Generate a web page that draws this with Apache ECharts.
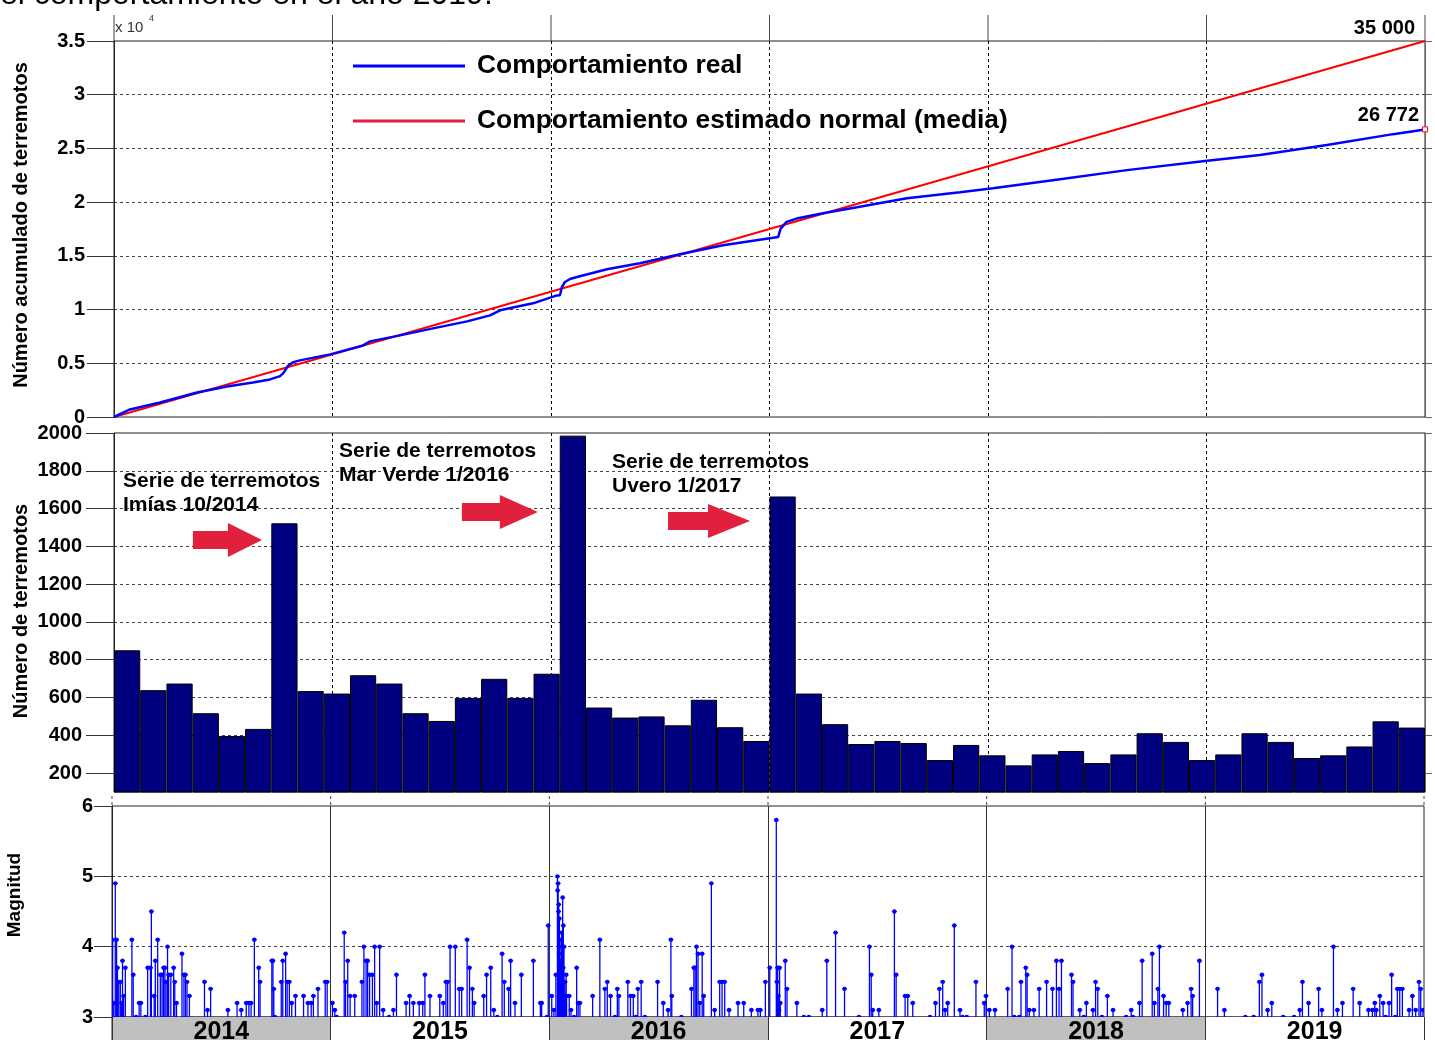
<!DOCTYPE html>
<html><head><meta charset="utf-8">
<script src="https://cdn.jsdelivr.net/npm/echarts@6/dist/echarts.min.js"></script>
<style>html,body{margin:0;padding:0;background:#fff;overflow:hidden}#c{width:1435px;height:1040px}</style>
</head><body><div id="c"></div>
<script>
// ---------- DATA ----------
const yearLabels = ['2014','2015','2016','2017','2018','2019'];
const cumTickValues = [0,5000,10000,15000,20000,25000,30000,35000];
const countTickValues = [200,400,600,800,1000,1200,1400,1600,1800,2000];
const magTickValues = [3,4,5,6];

// cumulative number of earthquakes (real)
const cumYears = [2014.000,2014.073,2014.211,2014.380,2014.517,2014.636,2014.714,2014.760,2014.775,2014.798,2014.821,2014.851,2014.989,2015.140,2015.172,2015.309,2015.460,2015.616,2015.721,2015.767,2015.918,2016.027,2016.041,2016.050,2016.064,2016.087,2016.119,2016.256,2016.407,2016.590,2016.787,2017.040,2017.051,2017.078,2017.124,2017.245,2017.400,2017.629,2017.872,2018.023,2018.330,2018.636,2018.993,2019.245,2019.551,2019.854,2020.000];
const cumReal = [0,700,1350,2280,2840,3220,3500,3800,4080,4800,5110,5270,5830,6660,7040,7600,8250,8900,9460,9930,10580,11320,11330,12100,12570,12850,13030,13750,14310,15150,15990,16760,17540,18160,18470,18970,19530,20370,20930,21300,22140,22980,23820,24380,25310,26330,26772];
// estimated normal behaviour (mean)
const estYears = [2014, 2020];
const estValues = [0, 35000];

// histogram bins (number of earthquakes per period)
const binLabels = ['1','2','3','4','5','6','7','8','9','10','11','12','13','14','15','16','17','18','19','20','21','22','23','24','25','26','27','28','29','30','31','32','33','34','35','36','37','38','39','40','41','42','43','44','45','46','47','48','49','50'];
const binCounts = [850,639,674,517,396,434,1522,634,621,718,674,517,476,598,699,598,726,1986,547,494,500,453,588,443,370,1664,621,459,354,370,359,269,349,294,241,299,317,253,299,411,365,269,299,411,365,280,294,341,474,441];

// magnitude of events [time (decimal year), magnitude]
const quakes2014 = [[2014.003,4.1],[2014.008,3.2],[2014.015,4.9],[2014.021,4.1],[2014.025,3.7],[2014.031,3.5],[2014.038,3.5],[2014.044,3.2],[2014.048,3.8],[2014.053,3.3],[2014.061,3.7],[2014.091,4.1],[2014.097,3.6],[2014.110,3.0],[2014.124,3.2],[2014.132,3.2],[2014.152,3.0],[2014.163,3.7],[2014.176,3.7],[2014.180,4.5],[2014.193,3.3],[2014.198,3.8],[2014.209,4.1],[2014.221,3.6],[2014.229,3.6],[2014.236,3.7],[2014.242,3.7],[2014.247,3.5],[2014.254,4.0],[2014.259,3.6],[2014.269,3.6],[2014.282,3.7],[2014.287,3.5],[2014.295,3.2],[2014.320,3.9],[2014.329,3.6],[2014.336,3.6],[2014.343,3.5],[2014.354,3.3],[2014.423,3.5],[2014.437,3.1],[2014.451,3.4],[2014.530,3.1],[2014.572,3.2],[2014.591,3.1],[2014.614,3.2],[2014.626,3.2],[2014.636,3.2],[2014.651,4.1],[2014.671,3.7],[2014.677,3.5],[2014.731,3.8],[2014.736,3.8],[2014.740,3.4],[2014.745,3.0],[2014.774,3.5],[2014.781,3.8],[2014.794,3.9],[2014.801,3.5],[2014.811,3.5],[2014.822,3.2],[2014.839,3.3],[2014.876,3.3],[2014.896,3.2],[2014.911,3.2],[2014.921,3.3],[2014.942,3.4],[2014.975,3.5],[2014.984,3.5]];
const quakes2015 = [[2015.008,3.2],[2015.019,3.1],[2015.028,3.0],[2015.062,4.2],[2015.068,3.5],[2015.078,3.8],[2015.089,3.3],[2015.110,3.3],[2015.143,3.5],[2015.152,4.0],[2015.162,3.8],[2015.169,3.8],[2015.178,3.6],[2015.191,3.6],[2015.201,4.0],[2015.211,3.2],[2015.224,4.0],[2015.240,3.1],[2015.267,3.0],[2015.287,3.1],[2015.301,3.6],[2015.345,3.2],[2015.361,3.3],[2015.378,3.2],[2015.405,3.2],[2015.421,3.2],[2015.431,3.6],[2015.454,3.3],[2015.499,3.3],[2015.515,3.2],[2015.527,3.5],[2015.535,3.5],[2015.546,4.0],[2015.570,4.0],[2015.588,3.4],[2015.599,3.4],[2015.624,4.1],[2015.635,3.7],[2015.648,3.4],[2015.656,3.2],[2015.700,3.3],[2015.713,3.6],[2015.732,3.7],[2015.746,3.1],[2015.762,3.0],[2015.784,3.9],[2015.794,3.5],[2015.814,3.4],[2015.823,3.8],[2015.843,3.2],[2015.872,3.6],[2015.927,3.8],[2015.959,3.2],[2015.965,3.2],[2015.989,3.0],[2015.995,4.3]];
const quakes2016 = [[2016.011,3.3],[2016.021,3.1],[2016.030,3.6],[2016.037,5.0],[2016.038,4.8],[2016.040,4.9],[2016.042,4.5],[2016.043,4.6],[2016.045,3.9],[2016.046,4.4],[2016.049,4.1],[2016.050,3.6],[2016.052,3.8],[2016.054,3.5],[2016.056,4.2],[2016.058,4.0],[2016.061,4.7],[2016.063,3.7],[2016.064,4.3],[2016.066,3.5],[2016.067,4.0],[2016.070,3.2],[2016.072,3.5],[2016.074,3.3],[2016.077,3.6],[2016.079,3.3],[2016.091,3.3],[2016.099,3.1],[2016.113,3.0],[2016.125,3.7],[2016.132,3.2],[2016.140,3.2],[2016.198,3.3],[2016.231,4.1],[2016.254,3.4],[2016.265,3.5],[2016.280,3.3],[2016.300,3.0],[2016.311,3.4],[2016.318,3.3],[2016.359,3.5],[2016.371,3.3],[2016.384,3.3],[2016.396,3.0],[2016.405,3.4],[2016.420,3.5],[2016.437,3.0],[2016.495,3.5],[2016.521,3.2],[2016.543,3.1],[2016.556,4.1],[2016.560,3.3],[2016.604,3.0],[2016.650,3.4],[2016.661,3.7],[2016.667,3.7],[2016.673,4.0],[2016.680,3.9],[2016.688,3.2],[2016.699,3.9],[2016.706,3.3],[2016.741,4.9],[2016.756,3.1],[2016.779,3.5],[2016.790,3.5],[2016.802,3.5],[2016.822,3.1],[2016.863,3.2],[2016.889,3.2],[2016.924,3.1],[2016.954,3.1],[2016.965,3.1],[2016.988,3.5]];
const quakes2017 = [[2017.008,3.7],[2017.038,5.8],[2017.041,3.5],[2017.044,3.7],[2017.047,3.3],[2017.050,3.1],[2017.053,3.7],[2017.056,3.2],[2017.079,3.8],[2017.087,3.4],[2017.132,3.2],[2017.164,3.0],[2017.187,3.0],[2017.248,3.1],[2017.269,3.8],[2017.309,4.2],[2017.350,3.4],[2017.416,3.0],[2017.464,4.0],[2017.472,3.6],[2017.479,3.1],[2017.507,3.1],[2017.578,4.5],[2017.586,3.6],[2017.627,3.3],[2017.639,3.3],[2017.662,3.2],[2017.741,3.0],[2017.766,3.2],[2017.784,3.4],[2017.799,3.5],[2017.810,3.1],[2017.822,3.2],[2017.852,4.3],[2017.878,3.1],[2017.890,3.0],[2017.909,3.0],[2017.951,3.5],[2017.989,3.2],[2017.997,3.3]];
const quakes2018 = [[2018.012,3.1],[2018.038,3.1],[2018.096,3.4],[2018.116,4.0],[2018.126,3.0],[2018.149,3.0],[2018.157,3.5],[2018.179,3.7],[2018.185,3.6],[2018.195,3.1],[2018.216,3.1],[2018.240,3.4],[2018.274,3.5],[2018.301,3.4],[2018.319,3.8],[2018.331,3.4],[2018.342,3.8],[2018.388,3.6],[2018.395,3.5],[2018.426,3.1],[2018.444,3.0],[2018.456,3.2],[2018.486,3.1],[2018.498,3.5],[2018.508,3.4],[2018.527,3.0],[2018.552,3.3],[2018.578,3.1],[2018.638,3.0],[2018.661,3.1],[2018.669,3.0],[2018.699,3.2],[2018.711,3.8],[2018.757,3.9],[2018.767,3.2],[2018.783,3.4],[2018.790,4.0],[2018.809,3.3],[2018.821,3.2],[2018.833,3.2],[2018.897,3.1],[2018.919,3.2],[2018.935,3.4],[2018.942,3.3],[2018.973,3.8]];
const quakes2019 = [[2019.056,3.4],[2019.087,3.1],[2019.183,3.0],[2019.221,3.0],[2019.247,3.5],[2019.259,3.6],[2019.285,3.1],[2019.304,3.2],[2019.356,3.0],[2019.406,3.0],[2019.432,3.1],[2019.444,3.5],[2019.472,3.2],[2019.518,3.4],[2019.533,3.1],[2019.586,4.0],[2019.604,3.1],[2019.627,3.2],[2019.676,3.4],[2019.706,3.2],[2019.746,3.1],[2019.764,3.1],[2019.775,3.2],[2019.782,3.1],[2019.798,3.3],[2019.813,3.2],[2019.825,3.0],[2019.840,3.2],[2019.852,3.6],[2019.868,3.0],[2019.878,3.4],[2019.889,3.4],[2019.901,3.4],[2019.932,3.1],[2019.947,3.3],[2019.962,3.1],[2019.977,3.5],[2019.985,3.4],[2019.995,3.1]];

// annotations (middle panel, data coordinates: year, count)
const annoTexts = ['Serie de terremotos\nImías 10/2014','Serie de terremotos\nMar Verde 1/2016','Serie de terremotos\nUvero 1/2017'];
const annoTextAt = [[2014.041,1746],[2015.030,1905],[2016.279,1847]];
const arrowTips = [[2014.677,1434],[2015.940,1582],[2016.911,1534]];

// ---------- CHART ----------
const F = 'Arial, "Liberation Sans", Helvetica, sans-serif';
const chart = echarts.init(document.getElementById('c'));
const allQuakes = [].concat(quakes2014, quakes2015, quakes2016, quakes2017, quakes2018, quakes2019);

const blueData = cumYears.map((y, i) => {
  const item = { value: [y, cumReal[i]] };
  if (i === cumYears.length - 1) {
    item.symbol = 'rect'; item.symbolSize = 5;
    item.itemStyle = { color: '#fff', borderColor: '#ff0000', borderWidth: 1 };
  }
  return item;
});
const redData = estYears.map((y, i) => [y, estValues[i]]);

const yLabel = { fontFamily: F, fontWeight: 'bold', fontSize: 20, color: '#000' };
const dashGrid = { show: true, lineStyle: { color: '#444', type: [3, 3], width: 1 }, showMinLine: false, showMaxLine: false };
const vDash = { show: true, lineStyle: { color: '#000', type: [3, 3], width: 1 }, showMinLine: false, showMaxLine: false };
const gridBorder = { show: true, borderColor: '#222', borderWidth: 1, backgroundColor: 'transparent' };

const L = 114, R = 10;
chart.setOption({
  animation: false,
  backgroundColor: '#fff',
  grid: [
    Object.assign({ left: L, right: R, top: 41, height: 376 }, gridBorder),
    Object.assign({ left: L, right: R, top: 433, height: 359 }, gridBorder),
    Object.assign({ left: 112, right: 11, top: 806, height: 211 }, gridBorder),
    Object.assign({ left: 112, right: 11, top: 1017, height: 45 }, gridBorder)
  ],
  legend: {
    orient: 'vertical', left: 353, top: 53, padding: 0, itemWidth: 112, itemHeight: 3, itemGap: 29,
    icon: 'rect',
    textStyle: { fontFamily: F, fontWeight: 'bold', fontSize: 26.4, color: '#000', padding: [0, 0, 0, 7] },
    data: [
      { name: 'Comportamiento real', itemStyle: { color: '#0000ff' } },
      { name: 'Comportamiento estimado normal (media)', itemStyle: { color: '#e0203c' } }
    ]
  },
  xAxis: [
    { gridIndex: 0, type: 'value', min: 2014, max: 2020, interval: 1, axisLine: { show: false }, axisTick: { show: false }, axisLabel: { show: false }, splitLine: vDash },
    { gridIndex: 1, type: 'category', data: binLabels, boundaryGap: true, axisLine: { show: false }, axisTick: { show: false }, axisLabel: { show: false }, splitLine: { show: false } },
    { gridIndex: 1, type: 'value', min: 2014, max: 2020, interval: 1, axisLine: { show: false }, axisTick: { show: false }, axisLabel: { show: false }, splitLine: vDash },
    { gridIndex: 2, type: 'value', min: 2014, max: 2020, interval: 1, axisLine: { show: false }, axisTick: { show: false }, axisLabel: { show: false }, splitLine: { show: true, lineStyle: { color: '#333', width: 1 }, showMinLine: false, showMaxLine: false } },
    { gridIndex: 3, type: 'category', data: yearLabels, position: 'top', boundaryGap: true, axisLine: { show: false }, axisTick: { show: false },
      axisLabel: { inside: true, margin: 3, fontFamily: F, fontWeight: 'bold', fontSize: 25, color: '#000', verticalAlign: 'top' },
      splitArea: { show: true, interval: 0, areaStyle: { color: ['#c0c0c0', '#ffffff'] } },
      splitLine: { show: true, interval: 0, lineStyle: { color: '#333', width: 1 } } }
  ],
  yAxis: [
    { gridIndex: 0, type: 'value', min: 0, max: 35000, interval: 5000,
      axisLine: { show: true, lineStyle: { color: '#222' } }, axisTick: { show: true, length: 27, lineStyle: { color: '#333' } },
      axisLabel: Object.assign({ margin: 29, formatter: v => String(v / 10000) }, yLabel), splitLine: dashGrid },
    { gridIndex: 1, type: 'value', min: 100, max: 2000,
      axisLine: { show: true, lineStyle: { color: '#222' } }, axisTick: { show: true, length: 28, customValues: countTickValues, lineStyle: { color: '#333' } },
      axisLabel: Object.assign({ margin: 32, customValues: countTickValues, formatter: v => String(v) }, yLabel), splitLine: dashGrid },
    { gridIndex: 2, type: 'value', min: 3, max: 6, interval: 1,
      axisLine: { show: true, lineStyle: { color: '#222' } }, axisTick: { show: true, length: 18, lineStyle: { color: '#333' } },
      axisLabel: Object.assign({ margin: 19 }, yLabel), splitLine: dashGrid },
    { gridIndex: 3, type: 'value', min: 0, max: 1, show: false },
    { gridIndex: 0, type: 'value', position: 'right', min: 0, max: 35000, interval: 5000,
      axisLine: { show: true, lineStyle: { color: '#666' } }, axisTick: { show: true, length: 7, lineStyle: { color: '#666' } }, axisLabel: { show: false }, splitLine: { show: false } },
    { gridIndex: 1, type: 'value', position: 'right', min: 100, max: 2000,
      axisLine: { show: true, lineStyle: { color: '#666' } }, axisTick: { show: true, length: 7, customValues: countTickValues, lineStyle: { color: '#666' } }, axisLabel: { show: false, customValues: countTickValues }, splitLine: { show: false } }
  ],
  series: [
    { name: 'Comportamiento estimado normal (media)', type: 'line', xAxisIndex: 0, yAxisIndex: 0, data: redData,
      symbol: 'none', lineStyle: { color: '#ff0000', width: 2 }, itemStyle: { color: '#ff0000' }, z: 3 },
    { name: 'Comportamiento real', type: 'line', xAxisIndex: 0, yAxisIndex: 0, data: blueData,
      symbol: 'none', showSymbol: true, lineStyle: { color: '#0000ff', width: 2.5 }, itemStyle: { color: '#0000ff' }, z: 4 },
    { name: 'bins', type: 'bar', xAxisIndex: 1, yAxisIndex: 1, data: binCounts, barCategoryGap: '0%',
      itemStyle: { color: '#000080', borderColor: '#000', borderWidth: 1 } },
    { name: 'stems', type: 'custom', xAxisIndex: 3, yAxisIndex: 2, data: allQuakes, clip: true,
      renderItem: (params, api) => {
        const t = api.value(0), m = api.value(1);
        const p0 = api.coord([t, 3]), p1 = api.coord([t, m]);
        return { type: 'group', children: [
          { type: 'line', shape: { x1: p0[0], y1: p0[1], x2: p1[0], y2: p1[1] }, style: { stroke: '#0000ff', lineWidth: 1.3 } },
          { type: 'circle', shape: { cx: p1[0], cy: p1[1], r: 2.2 }, style: { fill: '#0000ff' } },
          { type: 'line', shape: { x1: p1[0] - 2.5, y1: p1[1], x2: p1[0] + 2.5, y2: p1[1] }, style: { stroke: '#0000ff', lineWidth: 1 } }
        ] };
      } }
  ]
});

// ---------- decorations anchored through the axes ----------
const g = [];
// cut-off caption text at very top
g.push({ type: 'text', x: 0, y: 11, style: { text: 'el comportamiento en el año 2019.', font: '32px ' + F, fill: '#000', verticalAlign: 'bottom' } });
// x 10^4
const tl = chart.convertToPixel({ xAxisIndex: 0, yAxisIndex: 0 }, [2014, 35000]);
g.push({ type: 'text', x: tl[0] + 1, y: tl[1] - 13, style: { text: 'x 10', font: '15px ' + F, fill: '#333', verticalAlign: 'middle' } });
g.push({ type: 'text', x: tl[0] + 35, y: tl[1] - 22, style: { text: '4', font: '9px ' + F, fill: '#333', verticalAlign: 'middle' } });
// end labels
const redEnd = chart.convertToPixel({ xAxisIndex: 0, yAxisIndex: 0 }, redData[redData.length - 1]);
g.push({ type: 'text', x: redEnd[0] - 10, y: redEnd[1] - 13, style: { text: '35 000', font: 'bold 20px ' + F, fill: '#000', align: 'right', verticalAlign: 'middle' } });
const blueEnd = chart.convertToPixel({ xAxisIndex: 0, yAxisIndex: 0 }, [cumYears[cumYears.length - 1], cumReal[cumReal.length - 1]]);
g.push({ type: 'text', x: blueEnd[0] - 6, y: blueEnd[1] - 14, style: { text: '26 772', font: 'bold 20px ' + F, fill: '#000', align: 'right', verticalAlign: 'middle' } });
// stubs above panels at year boundaries
for (let yr = 2014; yr <= 2020; yr++) {
  const p = chart.convertToPixel({ xAxisIndex: 0, yAxisIndex: 0 }, [yr, 35000]);
  g.push({ type: 'line', shape: { x1: p[0], y1: 15, x2: p[0], y2: p[1] }, style: { stroke: '#444', lineWidth: 1 } });
  const q = chart.convertToPixel({ xAxisIndex: 3, yAxisIndex: 2 }, [yr, 6]);
  g.push({ type: 'line', shape: { x1: q[0], y1: q[1] - 10, x2: q[0], y2: q[1] }, style: { stroke: '#444', lineWidth: 1, lineDash: [3, 3] } });
}
// annotations
annoTexts.forEach((txt, i) => {
  const p = chart.convertToPixel({ xAxisIndex: 2, yAxisIndex: 1 }, annoTextAt[i]);
  g.push({ type: 'text', x: p[0], y: p[1] - 12, z: 10, style: { text: txt, font: 'bold 21px ' + F, lineHeight: 24, fill: '#000', verticalAlign: 'top' } });
});
const arrowLen = [69, 76, 82], headLen = [34, 38, 42];
arrowTips.forEach((tip, i) => {
  const p = chart.convertToPixel({ xAxisIndex: 2, yAxisIndex: 1 }, tip);
  const Ln = arrowLen[i], H = headLen[i];
  g.push({ type: 'polygon', z: 10, shape: { points: [[p[0] - Ln, p[1] - 9], [p[0] - H, p[1] - 9], [p[0] - H, p[1] - 17], [p[0], p[1]], [p[0] - H, p[1] + 17], [p[0] - H, p[1] + 9], [p[0] - Ln, p[1] + 9]] }, style: { fill: '#e0203c' } });
});
// axis titles
g.push({ type: 'text', x: 21, y: 225, rotation: Math.PI / 2, style: { text: 'Número acumulado de terremotos', font: 'bold 20px ' + F, fill: '#000', align: 'center', verticalAlign: 'middle' } });
g.push({ type: 'text', x: 21, y: 611, rotation: Math.PI / 2, style: { text: 'Número de terremotos', font: 'bold 20px ' + F, fill: '#000', align: 'center', verticalAlign: 'middle' } });
g.push({ type: 'text', x: 15, y: 895, rotation: Math.PI / 2, style: { text: 'Magnitud', font: 'bold 19px ' + F, fill: '#000', align: 'center', verticalAlign: 'middle' } });
chart.setOption({ graphic: g });
</script></body></html>
